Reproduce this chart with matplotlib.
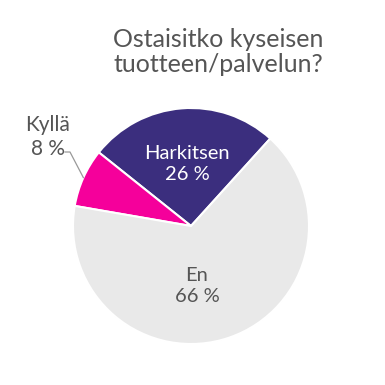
import numpy as np
import matplotlib
matplotlib.use('Agg')
import matplotlib.pyplot as plt

# data
labels = ["Harkitsen", "Kyllä", "En"]
values = [26, 8, 66]
colors = ["#3b2e7e", "#f5009b", "#e9e9e9"]
title = "Ostaisitko kyseisen\ntuotteen/palvelun?"

plt.rcParams['font.family'] = ['Lato', 'DejaVu Sans']
txt_color = "#555555"

W = H = 385
fig = plt.figure(figsize=(3.85, 3.85), dpi=100)
ax = fig.add_axes([0, 0, 1, 1])

cx, cy, r = 191, H - 226, 118
wedges, _ = ax.pie(values, colors=colors, startangle=47.8, counterclock=True,
                   center=(cx, cy), radius=r, frame=True,
                   wedgeprops=dict(edgecolor='white', linewidth=1.5))
ax.set_xlim(0, W)
ax.set_ylim(0, H)
ax.set_aspect('equal')
ax.axis('off')

def pct(v):
    return f"{v} %"

# Harkitsen (inside)
ax.text(187, H - 164, f"{labels[0]}\n{pct(values[0])}", ha='center', va='center',
        color='white', fontsize=14.5, linespacing=1.3)
# En (inside)
ax.text(197, H - 286, f"{labels[2]}\n{pct(values[2])}", ha='center', va='center',
        color=txt_color, fontsize=14.5, linespacing=1.3)

# Kyllä (outside with leader)
w = wedges[1]
mid = np.deg2rad((w.theta1 + w.theta2) / 2)
px, py = cx + r * np.cos(mid), cy + r * np.sin(mid)
ax.plot([px, 70, 65], [py, H - 152, H - 152], color='#999999', lw=0.9)
ax.text(48, H - 137, f"{labels[1]}\n{pct(values[1])}", ha='center', va='center',
        color=txt_color, fontsize=15, linespacing=1.3)

ax.text(218, H - 52, title, ha='center', va='center', color=txt_color,
        fontsize=18, linespacing=1.15)

fig.savefig('out.png', dpi=100, facecolor='white')
